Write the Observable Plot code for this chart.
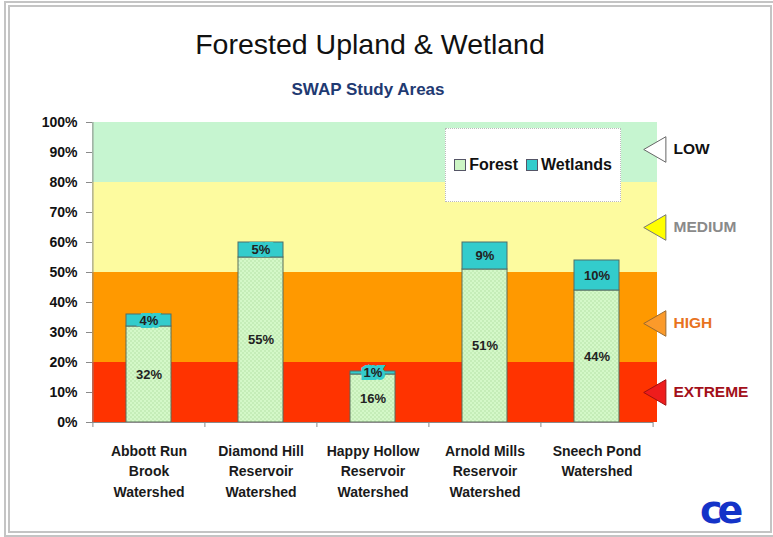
<!DOCTYPE html>
<html>
<head>
<meta charset="utf-8">
<script src="https://cdn.jsdelivr.net/npm/d3@7"></script>
<script src="https://cdn.jsdelivr.net/npm/@observablehq/plot@0.6"></script>
<style>
  body { margin: 0; background: #fff; font-family: "Liberation Sans", Arial, sans-serif; }
  #wrap { position: relative; width: 773px; height: 537px; overflow: hidden; background: #fff; }
  #frame { position: absolute; left: 4px; top: 1px; width: 760px; height: 524px; border: 6px double #c4c4c4; }
  #title { position: absolute; left: 0; width: 740px; top: 28px; text-align: center; font-size: 28.5px; color: #111; }
  #subtitle { position: absolute; left: 0; width: 736px; top: 80px; text-align: center; font-size: 17px; font-weight: bold; color: #1f3a72; }
  #chart { position: absolute; left: 0; top: 110px; }
  #legend { position: absolute; left: 445px; top: 128px; width: 174px; height: 72px; background: #fff; border: 1px dotted #bbb;
            display: flex; align-items: center; justify-content: center; font-size: 16px; font-weight: bold; color: #111; }
  .sw { display: inline-block; width: 10px; height: 10px; border: 1px solid #556; margin: 0 3px 0 0; vertical-align: -1px; }
  #logo { position: absolute; left: 700px; top: 488px; font-size: 38px; font-weight: bold; color: #1433c8; letter-spacing: -5px; font-family: "DejaVu Sans", sans-serif; }
</style>
</head>
<body>
<div id="wrap">
  <div id="frame"></div>
  <div id="title">Forested Upland &amp; Wetland</div>
  <div id="subtitle">SWAP Study Areas</div>
  <div id="chart"></div>
  <div id="legend"><span class="sw" style="background:#ccf5c4"></span>Forest<span class="sw" style="background:#33cccc;margin-left:8px"></span>Wetlands</div>
  <div id="logo">ce</div>
</div>
<script>
// ---- data ----
const categories = [
  "Abbott Run\nBrook\nWatershed",
  "Diamond Hill\nReservoir\nWatershed",
  "Happy Hollow\nReservoir\nWatershed",
  "Arnold Mills\nReservoir\nWatershed",
  "Sneech Pond\nWatershed"
];
const forest = [32, 55, 16, 51, 44];
const wetlands = [4, 5, 1, 9, 10];
const yTicks = [0, 10, 20, 30, 40, 50, 60, 70, 80, 90, 100];
const bandNames = ["EXTREME", "HIGH", "MEDIUM", "LOW"];
const bandLow = [0, 20, 50, 80];
const bandHigh = [20, 50, 80, 100];
const markerAt = [10, 33, 65, 91];

// ---- styles ----
const bandFill = { EXTREME: "#ff3300", HIGH: "#ff9900", MEDIUM: "#fdfb9f", LOW: "#c6f5d0" };
const markFill = { EXTREME: "#ee1c1c", HIGH: "#fb9a2a", MEDIUM: "#ffff00", LOW: "#ffffff" };
const markStroke = { EXTREME: "#a01010", HIGH: "#9a6a30", MEDIUM: "#777777", LOW: "#666666" };
const textFill = { EXTREME: "#a3101a", HIGH: "#e8731e", MEDIUM: "#8a8a8a", LOW: "#111111" };
const wetColor = "#33cccc";

const rows = categories.map((c, i) => ({ cat: c, forest: forest[i], wet: wetlands[i], total: forest[i] + wetlands[i] }));
const bands = bandNames.map((n, i) => ({ name: n, lo: bandLow[i], hi: bandHigh[i], at: markerAt[i] }));

const W = 773, H = 427, ML = 92, MR = 120, MT = 12, MB = 115;
const half = (W - ML - MR) / categories.length / 2;

const svg = Plot.plot({
  width: W, height: H,
  marginLeft: ML, marginRight: MR, marginTop: MT, marginBottom: MB,
  style: { fontFamily: "Liberation Sans, Arial, sans-serif", fontSize: "14px", fontWeight: "bold", color: "#111", background: "transparent", overflow: "visible" },
  x: { domain: categories, paddingInner: 0.6, paddingOuter: 0.3, label: null, axis: null },
  y: { domain: [0, 100], label: null, axis: null },
  color: { type: "identity" },
  marks: [
    Plot.rect(bands, { y1: "lo", y2: "hi", fill: d => bandFill[d.name], insetRight: -4 }),
    Plot.barY(rows, { x: "cat", y1: 0, y2: "forest", fill: "url(#dots)", stroke: "#5a6e5a", strokeWidth: 1 }),
    Plot.barY(rows, { x: "cat", y1: "forest", y2: "total", fill: wetColor, stroke: "#4f6e6a", strokeWidth: 1 }),
    Plot.text(rows, { x: "cat", y: d => d.forest / 2, text: d => d.forest + "%", fontSize: 13, fontWeight: "bold", fill: "#222" }),
    Plot.text(rows, { x: "cat", y: d => d.forest + d.wet / 2, text: d => d.wet + "%", fontSize: 13, fontWeight: "bold", fill: "#222",
                      stroke: wetColor, strokeWidth: 6, strokeLinejoin: "miter", paintOrder: "stroke" }),
    // axes
    Plot.ruleY([0], { stroke: "#8a8a8a" }),
    Plot.ruleX([categories[0]], { x: d => d, dx: -half, y1: 0, y2: 100, stroke: "#8a8a8a" }),
    Plot.ruleX(categories, { x: d => d, dx: -half, y1: 0, y2: 0, insetBottom: -5, stroke: "#8a8a8a" }),
    Plot.ruleX([categories[categories.length - 1]], { x: d => d, dx: half, y1: 0, y2: 0, insetBottom: -5, stroke: "#8a8a8a" }),
    Plot.axisY({ ticks: yTicks, tickFormat: d => d + "%", tickSize: 6, tickPadding: 9, stroke: "#8a8a8a", fill: "#111", fontSize: 14, fontWeight: "bold" }),
    Plot.axisX({ tickSize: 0, tickPadding: 19, lineHeight: 1.45, fill: "#1a1a1a", fontSize: 14, fontWeight: "bold" }),
    // risk markers
    Plot.dot(bands, { y: "at", frameAnchor: "right", dx: 5, symbol: "triangle", r: 9.5, rotate: -90,
                      fill: d => markFill[d.name], stroke: d => markStroke[d.name], strokeWidth: 1 }),
    Plot.text(bands, { y: "at", frameAnchor: "right", dx: 20, textAnchor: "start", text: "name",
                       fill: d => textFill[d.name], fontSize: 15.5, fontWeight: "bold" })
  ]
});

const ns = "http://www.w3.org/2000/svg";
const defs = document.createElementNS(ns, "defs");
defs.innerHTML = '<pattern id="dots" width="4" height="4" patternUnits="userSpaceOnUse">' +
  '<rect width="4" height="4" fill="#d4f8c8"/><circle cx="1" cy="1" r="0.8" fill="#b2dfa4"/><circle cx="3" cy="3" r="0.8" fill="#b2dfa4"/></pattern>';
svg.insertBefore(defs, svg.firstChild);
document.getElementById("chart").appendChild(svg);
</script>
</body>
</html>
